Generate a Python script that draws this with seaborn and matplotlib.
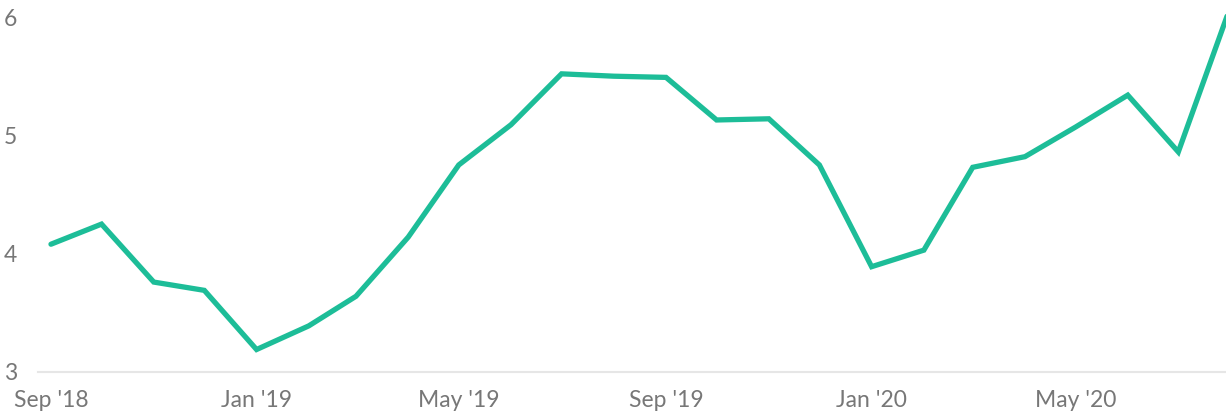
import matplotlib
matplotlib.use("Agg")
import matplotlib.pyplot as plt
import numpy as np
import pandas as pd
import seaborn as sns

# Monthly series, Sep 2018 - Aug 2020
months = pd.date_range("2018-09-01", "2020-08-01", freq="MS")
values = [4.08, 4.25, 3.76, 3.69, 3.19, 3.39, 3.64, 4.14, 4.75, 5.09, 5.52, 5.50,
          5.49, 5.13, 5.14, 4.75, 3.89, 4.03, 4.73, 4.82, 5.07, 5.34, 4.86, 6.09]
tick_dates = pd.to_datetime(["2018-09-01", "2019-01-01", "2019-05-01",
                             "2019-09-01", "2020-01-01", "2020-05-01"])
tick_labels = ["Sep '18", "Jan '19", "May '19", "Sep '19", "Jan '20", "May '20"]
y_ticks = [3, 4, 5, 6]

df = pd.DataFrame({"month": months, "value": values})

sns.set_style("white")
plt.rcParams["font.family"] = ["Lato", "DejaVu Sans"]

W, H = 1226, 413
fig = plt.figure(figsize=(W / 100, H / 100), dpi=100)
ax = fig.add_axes([38 / W, (H - 372) / H, (W - 38) / W, 372 / H])

sns.lineplot(data=df, x="month", y="value", ax=ax, color="#1dbd98",
             linewidth=3.8, solid_joinstyle="miter")

start = pd.Timestamp("2018-09-01")
ax.set_xlim(start - pd.Timedelta(days=7.7), start + pd.Timedelta(days=697.3))
ax.set_ylim(3, 6.144)

ax.set_xticks(tick_dates)
ax.set_xticklabels(tick_labels)
ax.set_yticks(y_ticks)
ax.set_yticklabels([str(v) for v in y_ticks])

ax.tick_params(axis="both", length=0, labelsize=16.5, colors="#777777")
ax.tick_params(axis="x", pad=13)
ax.tick_params(axis="y", pad=15)

ax.set_xlabel("")
ax.set_ylabel("")
for side in ["top", "right", "left"]:
    ax.spines[side].set_visible(False)
ax.spines["bottom"].set_color("#e6e6e6")
ax.spines["bottom"].set_linewidth(1.5)
ax.grid(False)

fig.savefig("out.png", dpi=100)
